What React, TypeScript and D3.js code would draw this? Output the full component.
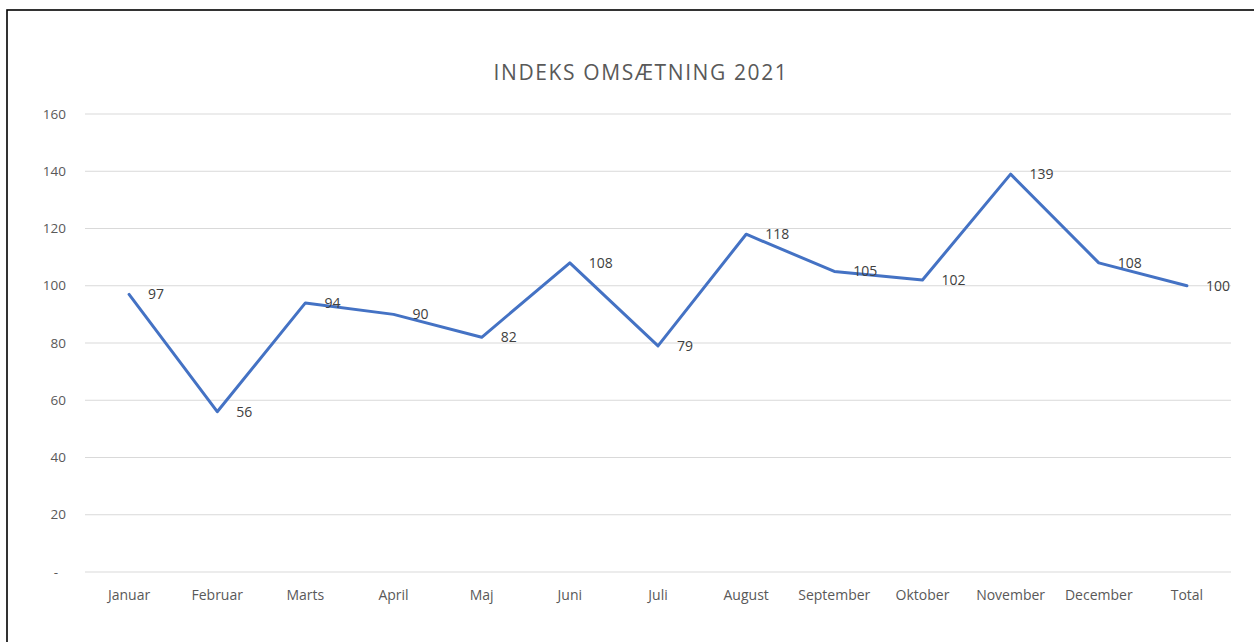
import React from "react";
import * as d3 from "d3";

const categories = ["Januar", "Februar", "Marts", "April", "Maj", "Juni", "Juli", "August", "September", "Oktober", "November", "December", "Total"];
const values = [97, 56, 94, 90, 82, 108, 79, 118, 105, 102, 139, 108, 100];
const yTicks = [0, 20, 40, 60, 80, 100, 120, 140, 160];
const title = "INDEKS OMSÆTNING 2021";

const W = 1254;
const H = 642;
const plot = { left: 85, right: 1231, top: 114, bottom: 572 };
const font = "'Open Sans', 'DejaVu Sans', sans-serif";

export default function App() {
  const x = d3.scalePoint<string>().domain(categories).range([plot.left, plot.right]).padding(0.5);
  const y = d3.scaleLinear().domain([0, 160]).range([plot.bottom, plot.top]);
  const line = d3
    .line<number>()
    .x((_, i) => x(categories[i]) as number)
    .y((d) => y(d));

  return (
    <svg width={W} height={H} style={{ position: "absolute", left: 0, top: 0, background: "#fff" }}>
      <rect x={0} y={0} width={W} height={H} fill="#fff" />
      <rect x={7} y={10} width={W + 20} height={H + 20} fill="none" stroke="#000" strokeWidth={1.6} />
      <text x={641} y={80} textAnchor="middle" fontFamily={font} fontSize={21} fill="#595959" letterSpacing={1.6}>
        {title}
      </text>
      {yTicks.map((t) => (
        <g key={t}>
          <line x1={plot.left} x2={plot.right} y1={y(t)} y2={y(t)} stroke="#d9d9d9" strokeWidth={1} />
          <text
            x={t === 0 ? 58 : 66}
            y={y(t)}
            dy="0.35em"
            textAnchor="end"
            fontFamily={font}
            fontSize={13.5}
            fill="#595959"
          >
            {t === 0 ? "-" : t}
          </text>
        </g>
      ))}
      {categories.map((c) => (
        <text key={c} x={x(c)} y={600} textAnchor="middle" fontFamily={font} fontSize={14} fill="#595959">
          {c}
        </text>
      ))}
      <path d={line(values) || ""} fill="none" stroke="#4472c4" strokeWidth={3} strokeLinejoin="round" strokeLinecap="round" />
      {values.map((v, i) => (
        <text
          key={i}
          x={(x(categories[i]) as number) + 19}
          y={y(v)}
          dy="0.35em"
          fontFamily={font}
          fontSize={14}
          fill="#404040"
        >
          {v}
        </text>
      ))}
    </svg>
  );
}
